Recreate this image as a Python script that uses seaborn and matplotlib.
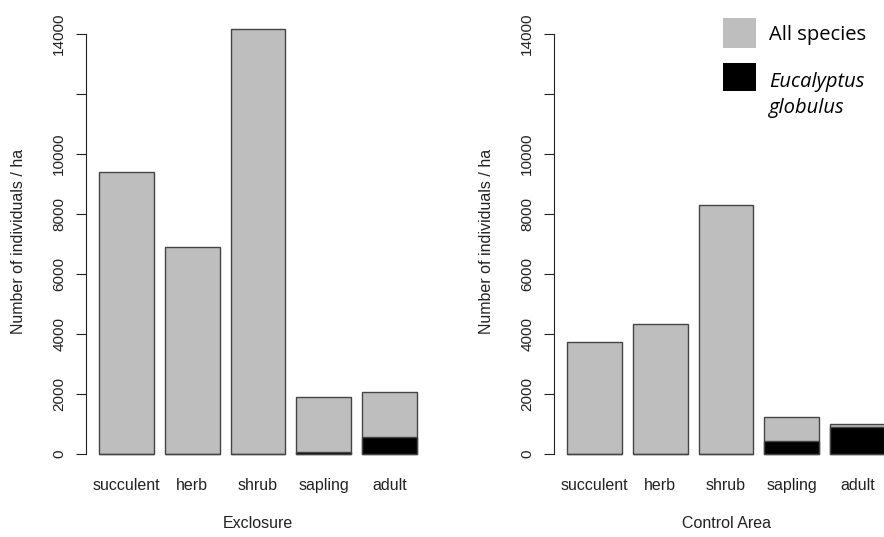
import pandas as pd
import matplotlib.pyplot as plt
import seaborn as sns
from matplotlib.patches import Rectangle

# values (individuals / ha)
categories = ["succulent", "herb", "shrub", "sapling", "adult"]
exclosure_all = [9380, 6880, 14140, 1900, 2070]
exclosure_euc = [0, 0, 0, 60, 575]
control_all = [3720, 4320, 8280, 1220, 990]
control_euc = [0, 0, 0, 445, 905]
yticks = [0, 2000, 4000, 6000, 8000, 10000, 12000, 14000]
ytick_labels = ["0", "2000", "4000", "6000", "8000", "10000", "", "14000"]

sns.set_style("white")
plt.rcParams["font.family"] = ["Liberation Sans", "DejaVu Sans"]

GREY = "#BEBEBE"
EDGE = "#444444"
W = 1 / 1.2  # R barplot default space = 0.2

fig = plt.figure(figsize=(8.84, 5.37), dpi=100)
left1 = 86 / 884
left2 = 554 / 884
bottom = 1 - 471 / 537
width = 344 / 884
height = 459 / 537
ax1 = fig.add_axes([left1, bottom, width, height])
ax2 = fig.add_axes([left2, bottom, width, height])


def panel(ax, total, euc, xlabel):
    df = pd.DataFrame({"cat": categories, "total": total, "euc": euc})
    sns.barplot(data=df, x="cat", y="total", color=GREY, saturation=1,
                width=W, edgecolor=EDGE, linewidth=1.0, errorbar=None, ax=ax)
    sns.barplot(data=df, x="cat", y="euc", color="black", saturation=1,
                width=W, edgecolor=EDGE, linewidth=1.0, errorbar=None, ax=ax)
    ax.set_xlim(-0.61, 4.61)
    ax.set_ylim(-566, 14716)
    for s in ["top", "right", "bottom"]:
        ax.spines[s].set_visible(False)
    ax.spines["left"].set_bounds(0, 14000)
    ax.spines["left"].set_color("#222222")
    ax.spines["left"].set_linewidth(0.8)
    ax.set_yticks(yticks)
    ax.set_yticklabels(ytick_labels, rotation=90, va="center")
    ax.tick_params(axis="y", left=True, direction="out", length=7.2, width=0.8,
                   color="#222222", pad=7, labelsize=11, labelcolor="#222222")
    ax.tick_params(axis="x", bottom=False, length=0, pad=5, labelsize=11.5,
                   labelcolor="#222222")
    ax.set_xlabel(xlabel, fontsize=11.5, color="#222222")
    ax.set_ylabel("Number of individuals / ha", fontsize=11.5, color="#222222")
    ax.xaxis.set_label_coords(0.5, -0.098)
    ax.yaxis.set_label_coords(-0.175, 0.5)
    ax.grid(False)


panel(ax1, exclosure_all, exclosure_euc, "Exclosure")
panel(ax2, control_all, control_euc, "Control Area")

# legend (added on top right, as in the original figure)
fig.add_artist(Rectangle((723 / 884, 1 - 48 / 537), 33 / 884, 30 / 537,
                         transform=fig.transFigure, facecolor=GREY, edgecolor="none"))
fig.add_artist(Rectangle((723 / 884, 1 - 91 / 537), 33 / 884, 28 / 537,
                         transform=fig.transFigure, facecolor="black", edgecolor="none"))
fig.text(769 / 884, 1 - 40 / 537, "All species", family="Open Sans",
         fontsize=14.5, va="baseline", color="black")
fig.text(769 / 884, 1 - 87 / 537, "Eucalyptus", family="Open Sans",
         fontsize=14.5, style="italic", va="baseline", color="black")
fig.text(769 / 884, 1 - 113 / 537, "globulus", family="Open Sans",
         fontsize=14.5, style="italic", va="baseline", color="black")

fig.savefig("out.png", dpi=100)
